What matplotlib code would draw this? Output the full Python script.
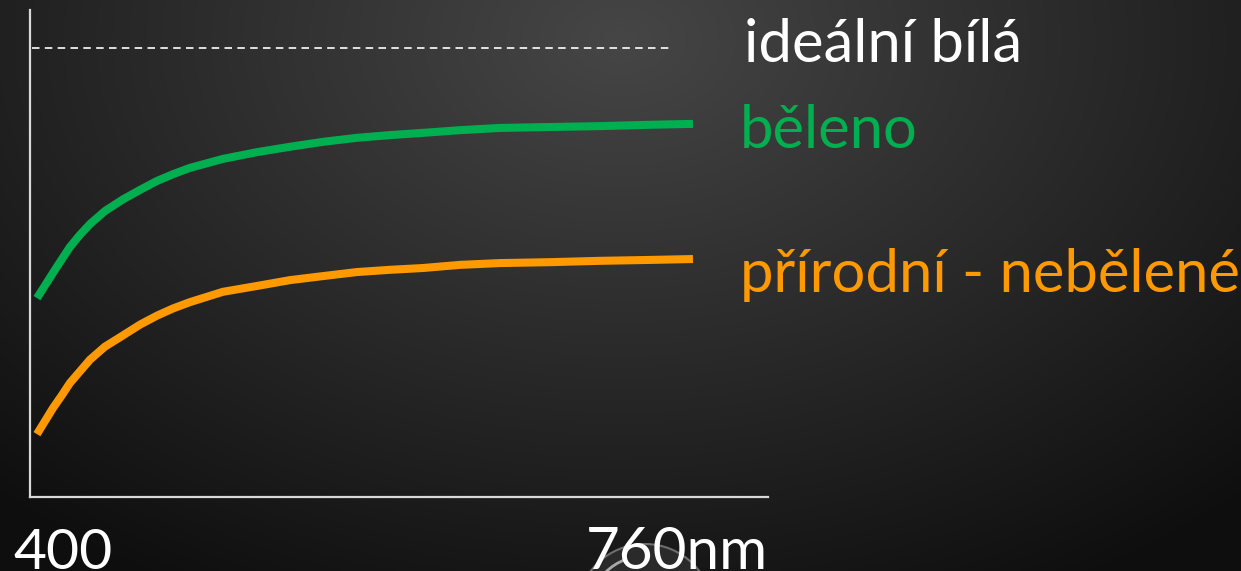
import matplotlib
matplotlib.use("Agg")
import matplotlib.pyplot as plt
import matplotlib.patches as mpatches
import numpy as np

# -----------------------------------------------------------
# data (wavelength in nm, relative reflectance)
# -----------------------------------------------------------
wl = [403.4, 407.3, 411.2, 415.6, 419.5, 424.4, 429.3, 436.6, 445.4, 453.7,
      462.0, 469.8, 478.0, 494.1, 510.7, 526.8, 542.9, 559.5, 575.6, 591.7,
      609.8, 629.3, 653.7, 678.0, 702.4, 723.4]
refl_beleno = [0.443, 0.471, 0.499, 0.530, 0.557, 0.584, 0.608, 0.637,
               0.663, 0.684, 0.704, 0.719, 0.733, 0.753, 0.768, 0.780,
               0.791, 0.800, 0.806, 0.811, 0.817, 0.822, 0.824, 0.826,
               0.829, 0.831]
refl_prirodni = [0.140, 0.169, 0.198, 0.227, 0.254, 0.280, 0.306, 0.335,
                 0.360, 0.384, 0.404, 0.420, 0.434, 0.457, 0.470, 0.483,
                 0.492, 0.501, 0.506, 0.510, 0.517, 0.521, 0.523, 0.526,
                 0.528, 0.530]
ideal_level = 1.0
ideal_wl = [401, 712]

labels = ["ideální bílá", "běleno", "přírodní - nebělené"]
x_min_label, x_max_label = "400", "760nm"

c_green = "#00b050"
c_orange = "#ff9900"
c_axis = "#d9d9d9"

W, H, DPI = 1241, 571, 100
fig = plt.figure(figsize=(W / DPI, H / DPI), dpi=DPI)

# background: dark radial gradient, lighter near top centre
bg = fig.add_axes([0, 0, 1, 1])
yy, xx = np.mgrid[0:H, 0:W]
r = np.sqrt(((xx - 620) / 900.0) ** 2 + ((yy - 40) / 620.0) ** 2)
shade = np.clip(70 - 55 * r, 14, 70) / 255.0
bg.imshow(np.dstack([shade] * 3), extent=[0, W, H, 0], aspect="auto")
bg.set_xlim(0, W)
bg.set_ylim(H, 0)
# partial glossy ball peeking in at the bottom (decoration in the slide)
bg.add_patch(mpatches.Circle((645, 612), 68, facecolor="#2a2a2a",
                             edgecolor="#6e6e6e", linewidth=1.5))
bg.add_patch(mpatches.Arc((645, 612), 112, 112, theta1=200, theta2=250,
                          color="#a8a8a8", linewidth=2))
bg.set_axis_off()

# main axes: 400..760 nm on x, reflectance on y
ax = fig.add_axes([30 / W, (H - 497) / H, 738 / W, 487 / H])
ax.patch.set_alpha(0)
ax.set_xlim(400, 760)
ax.set_ylim(0, 487 / 449)

ax.plot(wl, refl_beleno, color=c_green, linewidth=5.8, solid_capstyle="butt",
        solid_joinstyle="round")
ax.plot(wl, refl_prirodni, color=c_orange, linewidth=5.8, solid_capstyle="butt",
        solid_joinstyle="round")
ax.plot(ideal_wl, [ideal_level, ideal_level], color="white", linewidth=1.2,
        dashes=(4.5, 3.2))

for side in ["top", "right"]:
    ax.spines[side].set_visible(False)
for side in ["left", "bottom"]:
    ax.spines[side].set_color(c_axis)
    ax.spines[side].set_linewidth(1.6)
ax.set_xticks([])
ax.set_yticks([])

font = "Lato"
fig.text(744 / W, 1 - 62 / H, labels[0], color="white", fontsize=43,
         family=font, ha="left", va="baseline")
fig.text(740 / W, 1 - 148 / H, labels[1], color=c_green, fontsize=43,
         family=font, ha="left", va="baseline")
fig.text(740 / W, 1 - 292 / H, labels[2], color=c_orange, fontsize=43,
         family=font, ha="left", va="baseline")
fig.text(13 / W, 1 - 569 / H, x_min_label, color="white", fontsize=41,
         family=font, ha="left", va="baseline")
fig.text(768 / W, 1 - 569 / H, x_max_label, color="white", fontsize=42,
         family=font, ha="right", va="baseline")

fig.savefig("out.png", dpi=DPI)
